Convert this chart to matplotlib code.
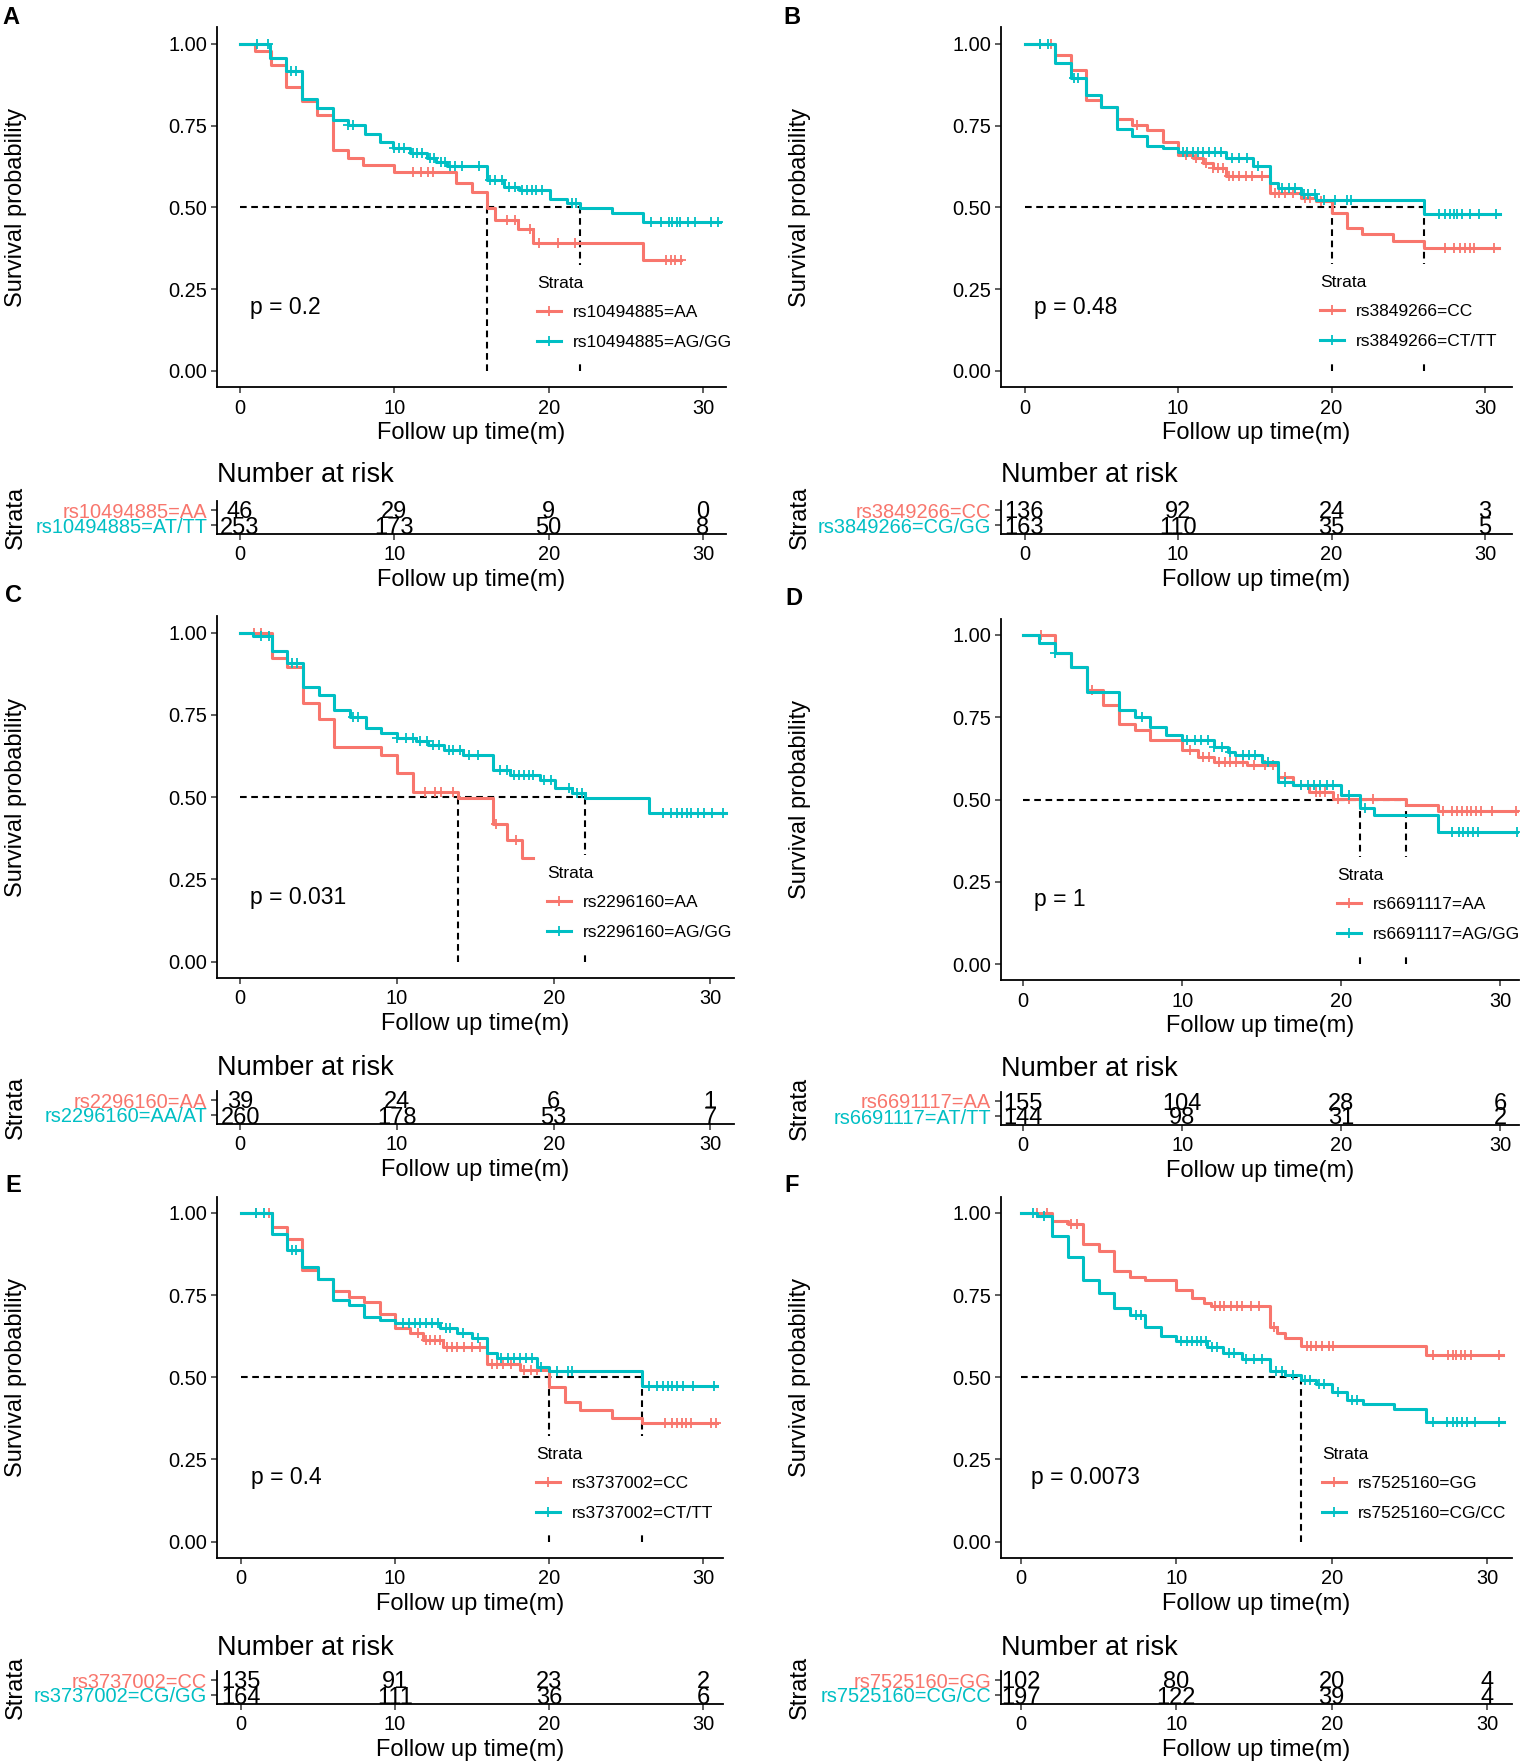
import numpy as np
import matplotlib
matplotlib.use('Agg')
import matplotlib.pyplot as plt
from matplotlib.lines import Line2D

# ---------------- data ----------------
panel_letters = ['A', 'B', 'C', 'D', 'E', 'F']
p_values = ['p = 0.2', 'p = 0.48', 'p = 0.031', 'p = 1', 'p = 0.4', 'p = 0.0073']
legend_labels = [
    ['rs10494885=AA', 'rs10494885=AG/GG'],
    ['rs3849266=CC', 'rs3849266=CT/TT'],
    ['rs2296160=AA', 'rs2296160=AG/GG'],
    ['rs6691117=AA', 'rs6691117=AG/GG'],
    ['rs3737002=CC', 'rs3737002=CT/TT'],
    ['rs7525160=GG', 'rs7525160=CG/CC'],
]
table_labels = [
    ['rs10494885=AA', 'rs10494885=AT/TT'],
    ['rs3849266=CC', 'rs3849266=CG/GG'],
    ['rs2296160=AA', 'rs2296160=AA/AT'],
    ['rs6691117=AA', 'rs6691117=AT/TT'],
    ['rs3737002=CC', 'rs3737002=CG/GG'],
    ['rs7525160=GG', 'rs7525160=CG/CC'],
]
risk_times = [0, 10, 20, 30]
risk_red = [[46, 29, 9, 0], [136, 92, 24, 3], [39, 24, 6, 1],
            [155, 104, 28, 6], [135, 91, 23, 2], [102, 80, 20, 4]]
risk_teal = [[253, 173, 50, 8], [163, 110, 35, 5], [260, 178, 53, 7],
             [144, 98, 31, 2], [164, 111, 36, 6], [197, 122, 39, 4]]
medians = [[16.0, 22.0], [20.0, 26.0], [13.9, 22.0], [21.2, 24.1], [20.0, 26.0], [18.0]]

# Panel A
A_red_t = [1.0, 2.0, 3.0, 4.0, 5.0, 6.0, 7.0, 8.0, 10.0, 14.0, 15.0, 16.0, 16.5, 18.0, 19.0, 26.1]
A_red_s = [0.978, 0.935, 0.869, 0.826, 0.783, 0.674, 0.652, 0.630, 0.609, 0.575, 0.548, 0.497, 0.461, 0.433, 0.39, 0.339]
A_red_end = 28.6
A_red_c = [11.2, 11.7, 12.2, 12.5, 17.3, 17.8, 18.8, 19.4, 20.6, 21.7, 27.6, 27.9, 28.2, 28.6]
A_teal_t = [1.95, 3.0, 4.0, 5.0, 6.05, 7.0, 8.1, 9.1, 9.9, 11.0, 12.1, 12.7, 13.4, 16.0, 17.1, 18.1, 20.1, 21.2, 22.0, 24.1, 26.1]
A_teal_s = [0.955, 0.917, 0.83, 0.805, 0.767, 0.752, 0.724, 0.70, 0.68, 0.665, 0.65, 0.64, 0.625, 0.583, 0.563, 0.553, 0.527, 0.512, 0.497, 0.484, 0.456]
A_teal_end = 31.1
A_teal_c = [1.1, 1.8, 3.3, 3.6, 7.0, 7.3, 10.0, 10.3, 10.6, 11.2, 11.5, 11.8, 12.3, 12.6, 13.0, 13.3, 13.6, 13.9,
            14.4, 15.5, 16.2, 16.5, 17.0, 17.4, 17.8, 18.3, 18.6, 18.9, 19.2, 19.6, 21.5, 21.8, 26.6, 27.3,
            27.8, 28.0, 28.3, 28.5, 29.0, 29.5, 30.5, 31.0]
# Panel B
B_red_t = [2.0, 3.0, 4.0, 5.0, 6.0, 7.0, 8.0, 9.0, 10.0, 11.0, 11.6, 12.3, 13.1, 16.0, 18.0, 19.0, 20.0, 21.0, 22.0, 24.0, 26.0]
B_red_s = [0.965, 0.92, 0.828, 0.808, 0.769, 0.752, 0.737, 0.70, 0.66, 0.65, 0.635, 0.62, 0.596, 0.545, 0.528, 0.518, 0.482, 0.436, 0.419, 0.396, 0.375]
B_red_end = 30.9
B_red_c = [1.0, 1.7, 7.3, 10.5, 11.2, 11.8, 12.3, 12.6, 12.9, 13.3, 13.6, 14.0, 14.4, 14.8, 15.5, 16.3, 16.6,
           17.0, 17.5, 18.3, 18.6, 19.3, 27.4, 28.0, 28.4, 28.7, 29.0, 29.3, 30.6]
B_teal_t = [2.0, 3.0, 4.0, 5.0, 6.0, 7.0, 8.0, 9.0, 10.0, 13.1, 14.9, 16.0, 16.5, 18.0, 19.0, 26.0]
B_teal_s = [0.94, 0.894, 0.843, 0.808, 0.738, 0.718, 0.686, 0.68, 0.67, 0.65, 0.625, 0.574, 0.558, 0.54, 0.523, 0.48]
B_teal_end = 31.0
B_teal_c = [1.0, 1.5, 3.2, 3.5, 10.3, 10.6, 11.0, 11.3, 11.6, 12.0, 12.4, 12.8, 13.5, 14.0, 14.5, 15.2, 16.8,
            17.2, 17.6, 18.2, 18.5, 18.9, 19.5, 20.2, 21.0, 21.3, 27.0, 27.4, 27.7, 28.0, 28.2, 28.5, 29.0, 29.6, 30.7]
# Panel C
C_red_t = [2.0, 3.0, 4.0, 5.0, 6.0, 9.0, 10.0, 11.0, 13.9, 16.1, 17.0, 18.0]
C_red_s = [0.923, 0.897, 0.786, 0.737, 0.654, 0.628, 0.573, 0.517, 0.499, 0.419, 0.37, 0.314]
C_red_end = 18.7
C_red_c = [0.9, 1.3, 11.8, 12.4, 12.8, 13.6, 16.3, 17.6]
C_teal_t = [0.8, 2.0, 3.0, 4.0, 5.0, 6.0, 7.0, 8.0, 9.0, 10.0, 11.2, 12.0, 13.0, 14.2, 16.1, 17.2, 19.1, 20.1, 21.2, 22.0, 26.1]
C_teal_s = [0.99, 0.946, 0.907, 0.836, 0.811, 0.765, 0.745, 0.71, 0.694, 0.679, 0.672, 0.66, 0.644, 0.628, 0.583, 0.568, 0.552, 0.527, 0.512, 0.497, 0.453]
C_teal_end = 31.0
C_teal_c = [1.3, 1.8, 3.3, 3.6, 7.2, 7.5, 10.0, 10.6, 11.0, 11.5, 11.9, 12.3, 12.7, 13.3, 13.6, 14.0, 14.6, 15.2,
            16.6, 17.0, 17.5, 17.8, 18.1, 18.4, 18.7, 19.4, 19.8, 21.0, 21.5, 21.8, 27.0, 27.5, 27.9, 28.2,
            28.5, 28.8, 29.2, 29.6, 30.1, 30.8]
# Panel D
D_red_t = [2.0, 3.0, 4.0, 5.0, 6.0, 7.0, 8.0, 10.0, 11.0, 12.0, 14.1, 16.0, 17.0, 18.0, 19.5, 24.1, 26.1]
D_red_s = [0.944, 0.902, 0.833, 0.787, 0.73, 0.711, 0.681, 0.65, 0.63, 0.615, 0.605, 0.569, 0.544, 0.524, 0.503, 0.483, 0.466]
D_red_end = 31.4
D_red_c = [1.1, 4.3, 10.5, 11.3, 11.7, 12.3, 12.7, 13.0, 13.4, 13.8, 14.5, 15.2, 15.7, 16.5, 17.5, 18.4, 18.7,
           19.0, 19.8, 20.5, 22.0, 26.4, 27.0, 27.3, 27.6, 27.9, 28.2, 28.5, 28.8, 29.5, 31.0]
D_teal_t = [1.0, 2.0, 3.0, 4.0, 6.0, 7.0, 8.0, 9.0, 10.0, 12.0, 12.9, 13.3, 15.0, 16.0, 17.0, 20.0, 21.2, 22.1, 26.1]
D_teal_s = [0.975, 0.944, 0.904, 0.828, 0.772, 0.752, 0.721, 0.696, 0.681, 0.66, 0.645, 0.635, 0.615, 0.554, 0.544, 0.514, 0.473, 0.453, 0.40]
D_teal_end = 31.4
D_teal_c = [2.0, 7.5, 10.3, 10.8, 11.2, 11.6, 12.0, 12.5, 13.0, 13.8, 14.2, 14.6, 15.4, 16.5, 17.5, 17.9, 18.3,
            18.7, 19.1, 19.5, 20.5, 21.5, 27.0, 27.4, 27.7, 28.0, 28.3, 28.6, 31.1]
# Panel E
E_red_t = [2.0, 3.0, 4.0, 5.0, 6.0, 7.0, 8.0, 9.0, 10.0, 11.0, 11.8, 13.1, 16.0, 18.1, 20.0, 21.0, 22.0, 24.1, 26.0]
E_red_s = [0.958, 0.92, 0.827, 0.80, 0.764, 0.743, 0.728, 0.693, 0.65, 0.634, 0.614, 0.593, 0.54, 0.522, 0.472, 0.426, 0.40, 0.375, 0.36]
E_red_end = 30.9
E_red_c = [1.0, 1.8, 11.5, 12.0, 12.3, 12.6, 12.9, 13.4, 13.7, 14.0, 14.5, 15.0, 15.5, 16.3, 16.6, 17.0, 17.5,
           18.4, 18.8, 19.2, 27.5, 28.0, 28.3, 28.6, 28.9, 29.2, 30.5, 30.8]
E_teal_t = [2.0, 3.0, 4.0, 5.0, 6.0, 7.0, 8.0, 9.0, 10.0, 12.9, 14.0, 15.0, 16.0, 16.6, 19.2, 20.0, 26.0]
E_teal_s = [0.935, 0.887, 0.837, 0.798, 0.734, 0.72, 0.683, 0.674, 0.664, 0.649, 0.634, 0.619, 0.573, 0.558, 0.532, 0.52, 0.474]
E_teal_end = 30.9
E_teal_c = [1.0, 1.5, 3.3, 3.6, 10.5, 10.9, 11.3, 11.6, 12.0, 12.4, 12.8, 13.3, 13.6, 14.4, 15.4, 16.9, 17.3,
            17.7, 18.1, 18.5, 18.9, 19.5, 20.5, 21.2, 21.5, 26.5, 27.0, 27.4, 27.7, 28.0, 28.3, 28.7, 29.3, 30.7]
# Panel F
F_red_t = [2.0, 3.0, 4.0, 5.0, 6.0, 7.0, 8.0, 10.0, 11.0, 11.8, 12.2, 16.0, 16.5, 17.0, 18.0, 26.1]
F_red_s = [0.977, 0.967, 0.907, 0.885, 0.824, 0.805, 0.795, 0.767, 0.742, 0.727, 0.717, 0.654, 0.636, 0.619, 0.595, 0.568]
F_red_end = 31.0
F_red_c = [1.0, 1.7, 3.2, 3.6, 12.5, 12.8, 13.1, 13.5, 13.9, 14.2, 14.8, 15.3, 16.3, 18.4, 18.7, 19.0, 19.4,
           19.8, 20.1, 26.5, 27.5, 27.8, 28.0, 28.3, 28.6, 29.0, 30.8]
F_teal_t = [1.0, 2.0, 3.0, 4.0, 5.0, 6.0, 7.0, 8.0, 9.0, 10.0, 12.0, 13.0, 14.2, 16.0, 17.0, 18.0, 19.0, 20.0, 21.0, 22.0, 24.0, 26.1]
F_teal_s = [0.99, 0.931, 0.867, 0.796, 0.756, 0.71, 0.69, 0.654, 0.626, 0.609, 0.593, 0.573, 0.555, 0.52, 0.507, 0.492, 0.48, 0.456, 0.431, 0.419, 0.403, 0.365]
F_teal_end = 31.1
F_teal_c = [0.8, 1.5, 7.4, 7.7, 10.3, 10.7, 11.0, 11.3, 11.6, 11.9, 12.3, 12.6, 13.4, 13.7, 14.5, 15.0, 15.5,
            16.4, 16.8, 17.5, 18.3, 18.6, 19.2, 19.5, 20.4, 21.3, 21.6, 26.5, 27.4, 27.8, 28.1, 28.4, 28.7, 29.2, 30.8]

curves = [
    [(A_red_t, A_red_s, A_red_end, A_red_c), (A_teal_t, A_teal_s, A_teal_end, A_teal_c)],
    [(B_red_t, B_red_s, B_red_end, B_red_c), (B_teal_t, B_teal_s, B_teal_end, B_teal_c)],
    [(C_red_t, C_red_s, C_red_end, C_red_c), (C_teal_t, C_teal_s, C_teal_end, C_teal_c)],
    [(D_red_t, D_red_s, D_red_end, D_red_c), (D_teal_t, D_teal_s, D_teal_end, D_teal_c)],
    [(E_red_t, E_red_s, E_red_end, E_red_c), (E_teal_t, E_teal_s, E_teal_end, E_teal_c)],
    [(F_red_t, F_red_s, F_red_end, F_red_c), (F_teal_t, F_teal_s, F_teal_end, F_teal_c)],
]

# ---------------- layout (pixel positions in the 1524x1762 canvas) ----------------
# L, R, x(t=0), x(t=30), y(S=1), y(S=0)
main_geo = [
    (217, 726, 240.0, 703.0, 43.7, 371.0),
    (1001, 1512, 1024.5, 1485.0, 43.7, 371.0),
    (217, 734, 240.3, 710.3, 632.8, 961.6),
    (1001, 1519, 1023.3, 1500.0, 635.0, 964.0),
    (217, 723, 240.8, 703.3, 1213.0, 1541.6),
    (1001, 1512, 1021.0, 1487.0, 1213.0, 1541.6),
]
table_rows = [(510, 525), (510, 525), (1100, 1115), (1101, 1116), (1680, 1695), (1680, 1695)]
nar_y = [475, 475, 1068, 1069, 1648, 1648]
letter_pos = [(11, 17), (792, 17), (13, 596), (794, 598), (13, 1186), (792, 1186)]
legend_pos = [(537, 284), (1320, 283), (547, 874), (1337, 876), (536, 1455), (1322, 1455)]

RED = '#F8766D'
TEAL = '#00BFC4'
W, H = 1524, 1762

plt.rcParams['font.family'] = ['Liberation Sans', 'DejaVu Sans']
fig = plt.figure(figsize=(W / 100, H / 100), dpi=100)


def fx(x):
    return x / W


def fy(y):
    return 1 - y / H


def add_ax(L, R, T, B):
    return fig.add_axes([L / W, 1 - B / H, (R - L) / W, (B - T) / H])


def style(ax):
    for s in ('top', 'right'):
        ax.spines[s].set_visible(False)
    for s in ('left', 'bottom'):
        ax.spines[s].set_linewidth(1.3)
        ax.spines[s].set_color('black')
    ax.tick_params(axis='both', length=4, width=1.1, color='#333333', labelsize=14.4, labelcolor='black')
    ax.tick_params(axis='x', pad=4.2)
    ax.tick_params(axis='y', pad=3)


dash = (0, (3.2, 2.2))
LFS = 12.5
LPAD = 0.65

for i in range(6):
    L, R, x0, x30, y1, y0 = main_geo[i]
    k = (x30 - x0) / 30.0
    xlim = ((L - x0) / k, (R - x0) / k)
    hgt = y0 - y1
    ax = add_ax(L, R, y1 - 0.05 * hgt, y0 + 0.05 * hgt)
    ax.set_xlim(*xlim)
    ax.set_ylim(-0.05, 1.05)
    style(ax)
    ax.set_xticks([0, 10, 20, 30])
    ax.set_yticks([0, 0.25, 0.5, 0.75, 1.0])
    ax.set_yticklabels(['0.00', '0.25', '0.50', '0.75', '1.00'])
    ax.set_xlabel('Follow up time(m)', fontsize=17, labelpad=3.3)

    for (t, s, end, cens), col in zip(curves[i], (RED, TEAL)):
        xs = [0.0] + list(t) + [end]
        ys = [1.0] + list(s) + [s[-1]]
        ax.step(xs, ys, where='post', color=col, lw=2.2, zorder=3)
        idx = np.searchsorted(np.array(t), np.array(cens), side='right')
        yc = np.array([1.0] + list(s))[idx]
        ax.plot(cens, yc, ls='none', marker='+', ms=6.5, mew=1.3, color=col, zorder=3)

    med = medians[i]
    ax.plot([0, max(med)], [0.5, 0.5], color='black', lw=1.5, ls=dash, zorder=2)
    for m in med:
        ax.plot([m, m], [0, 0.5], color='black', lw=1.5, ls=dash, zorder=2)

    ax.text(0.65, 0.195, p_values[i], fontsize=16.5, ha='left', va='center')

    handles = [Line2D([], [], color=c, lw=2.2, marker='+', ms=7, mew=1.3) for c in (RED, TEAL)]
    padpx = LPAD * LFS * 100 / 72
    lx, ly = legend_pos[i]
    leg = ax.legend(handles, legend_labels[i], title='Strata', loc='upper left',
                    bbox_to_anchor=(fx(lx - padpx), fy(ly - 8.0 - padpx)),
                    bbox_transform=fig.transFigure, frameon=True, fancybox=False,
                    edgecolor='none', facecolor='white', framealpha=1, fontsize=LFS,
                    title_fontsize=LFS, borderpad=LPAD, borderaxespad=0, handlelength=1.4,
                    handletextpad=0.65, labelspacing=0.82, alignment='left')
    leg.set_zorder(5)

    fig.text(fx(L - 201), fy((y1 + y0) / 2), 'Survival probability', rotation=90,
             fontsize=17, ha='center', va='center')
    lxp, lyp = letter_pos[i]
    fig.text(fx(lxp), fy(lyp), panel_letters[i], fontsize=17, fontweight='bold',
             ha='center', va='center')

    # risk table
    r1, r2 = table_rows[i]
    d = r2 - r1
    tax = add_ax(L, R, r1 - 0.6 * d, r2 + 0.6 * d)
    tax.set_xlim(*xlim)
    tax.set_ylim(0.4, 2.6)
    style(tax)
    tax.set_xticks([0, 10, 20, 30])
    tax.set_yticks([2, 1])
    tax.set_yticklabels(table_labels[i])
    for lab, col in zip(tax.get_yticklabels(), (RED, TEAL)):
        lab.set_color(col)
    tax.set_xlabel('Follow up time(m)', fontsize=17, labelpad=3.3)
    for row, vals in zip((2, 1), (risk_red[i], risk_teal[i])):
        for tt, v in zip(risk_times, vals):
            tax.text(tt, row, str(v), ha='center', va='center_baseline', fontsize=17)
    fig.text(fx(L), fy(nar_y[i]), 'Number at risk', fontsize=19.5, ha='left', va='center')
    fig.text(fx(L - 201), fy((r1 + r2) / 2), 'Strata', rotation=90, fontsize=17,
             ha='center', va='center')

fig.savefig('out.png', dpi=100)
